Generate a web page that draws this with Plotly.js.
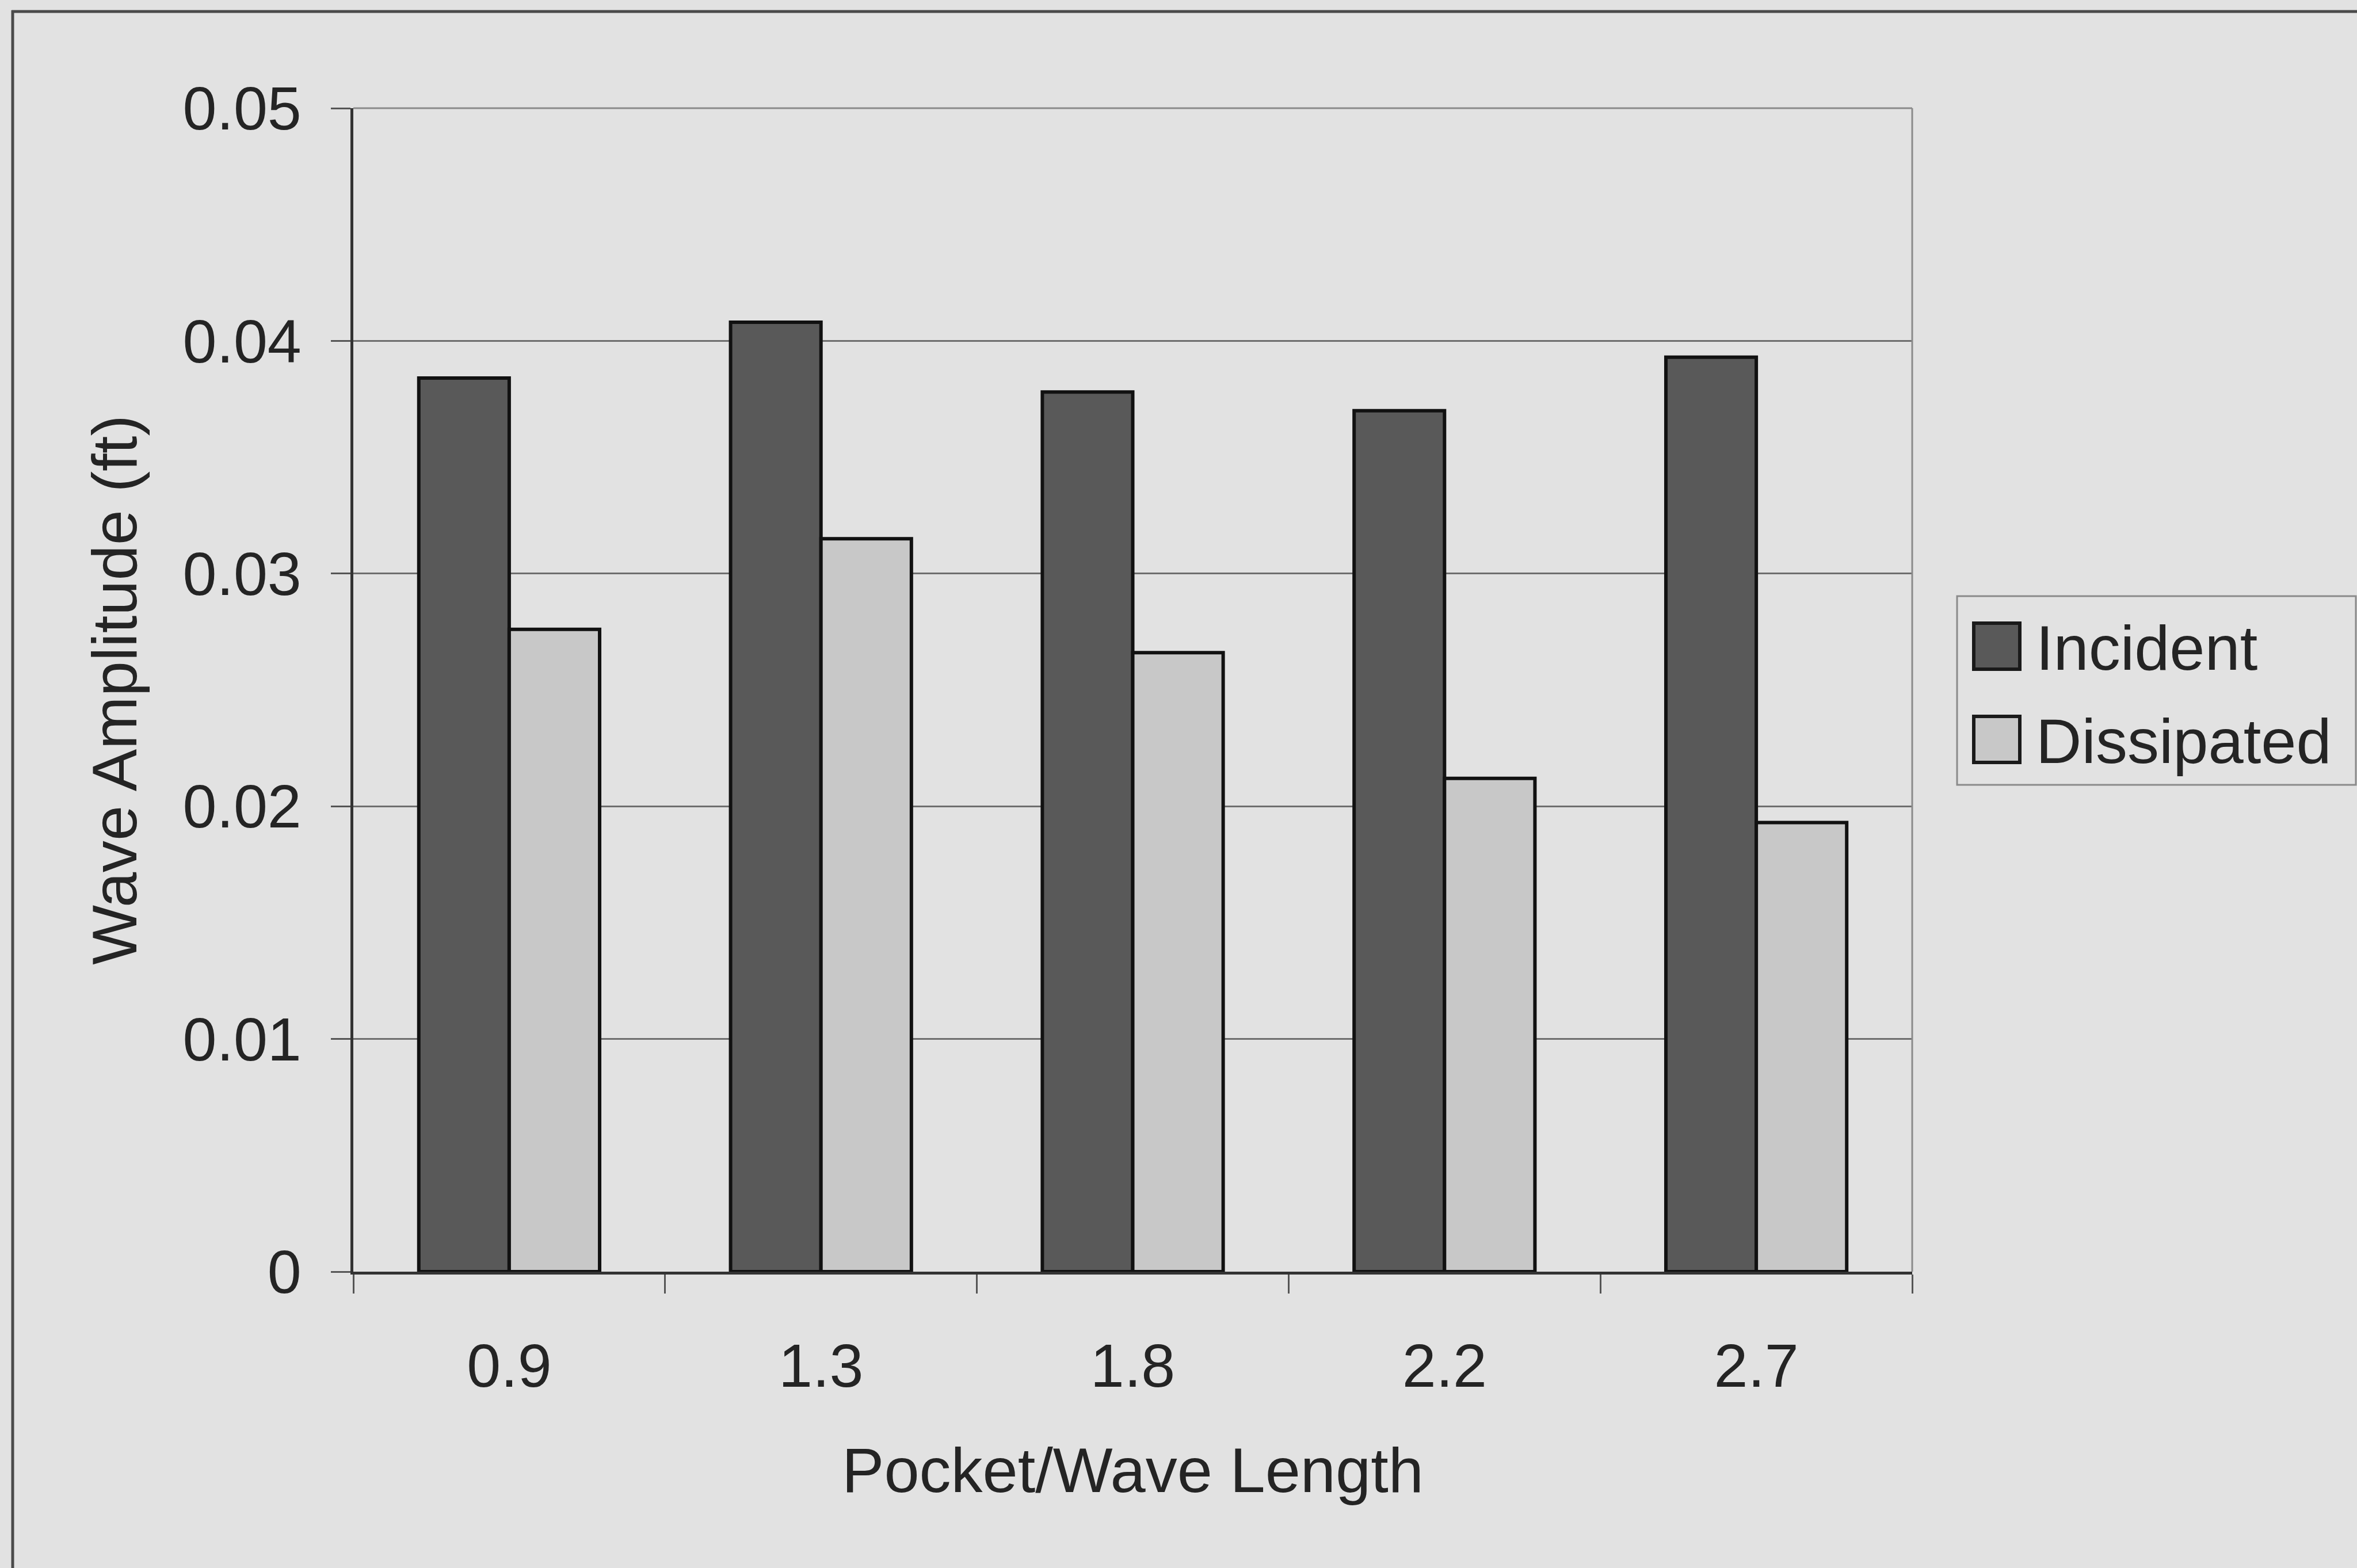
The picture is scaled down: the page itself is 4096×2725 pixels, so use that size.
<!DOCTYPE html>
<html>
<head>
<meta charset="utf-8">
<script src="https://cdn.plot.ly/plotly-3.0.1.min.js"></script>
<style>
  html, body { margin: 0; padding: 0; background: #e2e2e2; }
  #chart { width: 4096px; height: 2725px; }
</style>
</head>
<body>
<div id="chart"></div>
<script>
// ---- data ----
const categories = ['0.9', '1.3', '1.8', '2.2', '2.7'];
const incident = [0.0384, 0.0408, 0.0378, 0.0370, 0.0393];
const dissipated = [0.0276, 0.0315, 0.0266, 0.0212, 0.0193];
const seriesNames = ['Incident', 'Dissipated'];
const yTickVals = [0, 0.01, 0.02, 0.03, 0.04, 0.05];
const yTickText = ['0', '0.01', '0.02', '0.03', '0.04', '0.05'];
const xTitle = 'Pocket/Wave Length';
const yTitle = 'Wave Amplitude (ft)';

// ---- styles ----
const FONT = '"Liberation Sans", Arial, Helvetica, sans-serif';
const TEXT = '#242424';
const BG = '#e2e2e2';
const colors = ['#595959', '#c8c8c8'];
const W = 4096, H = 2725;
const L = 614, R = 3323, T = 188, B = 2210;
const px = x => (x - L) / (R - L);
const py = y => (B - y) / (B - T);

const traces = [
  { type: 'bar', name: seriesNames[0], x: categories, y: incident,
    marker: { color: colors[0], line: { color: '#111', width: 6 } }, showlegend: false },
  { type: 'bar', name: seriesNames[1], x: categories, y: dissipated,
    marker: { color: colors[1], line: { color: '#111', width: 6 } }, showlegend: false }
];

const shapes = [
  // plot frame top/right (gray)
  { type: 'line', xref: 'paper', yref: 'paper', x0: 0, x1: 1, y0: 1, y1: 1, line: { color: '#8a8a8a', width: 3 }, layer: 'above' },
  { type: 'line', xref: 'paper', yref: 'paper', x0: 1, x1: 1, y0: 0, y1: 1, line: { color: '#8a8a8a', width: 3 }, layer: 'above' },
  // outer border (top & left)
  { type: 'line', xref: 'paper', yref: 'paper', x0: px(20), x1: px(W + 10), y0: py(20), y1: py(20), line: { color: '#4a4a4a', width: 5 } },
  { type: 'line', xref: 'paper', yref: 'paper', x0: px(22), x1: px(22), y0: py(18), y1: py(H + 10), line: { color: '#4a4a4a', width: 5 } },
  // legend box
  { type: 'rect', xref: 'paper', yref: 'paper', x0: px(3401), x1: px(4094), y0: py(1036), y1: py(1364),
    line: { color: '#8a8a8a', width: 3 }, fillcolor: BG }
];
const annotations = [];
const legendRows = [1123, 1285];
seriesNames.forEach((name, i) => {
  const cy = legendRows[i];
  shapes.push({ type: 'rect', xref: 'paper', yref: 'paper',
    x0: px(3430), x1: px(3510), y0: py(cy - 40), y1: py(cy + 40),
    line: { color: '#1a1a1a', width: 6 }, fillcolor: colors[i] });
  annotations.push({ xref: 'paper', yref: 'paper', x: px(3536), y: py(cy + 2),
    xanchor: 'left', yanchor: 'middle', showarrow: false, text: name,
    font: { family: FONT, size: 110, color: TEXT } });
});

const layout = {
  width: W, height: H,
  paper_bgcolor: BG, plot_bgcolor: BG,
  margin: { l: L, r: W - R, t: T, b: H - B, pad: 0 },
  font: { family: FONT, color: TEXT, size: 106 },
  barmode: 'group', bargap: 0.42, bargroupgap: 0,
  showlegend: false,
  xaxis: {
    type: 'category', categoryorder: 'array', categoryarray: categories,
    showline: true, linecolor: '#333', linewidth: 5,
    ticks: 'outside', tickson: 'boundaries', ticklen: 33, tickwidth: 3, tickcolor: '#555',
    showgrid: false, zeroline: false,
    tickfont: { family: FONT, size: 106, color: TEXT },
    ticklabelstandoff: 68,
    title: { text: xTitle, font: { family: FONT, size: 110, color: TEXT }, standoff: 86 },
    automargin: false
  },
  yaxis: {
    range: [0, 0.05], tickmode: 'array', tickvals: yTickVals, ticktext: yTickText,
    showline: true, linecolor: '#333', linewidth: 5,
    ticks: 'outside', ticklen: 34, tickwidth: 3, tickcolor: '#555',
    showgrid: true, gridcolor: '#6e6e6e', gridwidth: 3, zeroline: false,
    tickfont: { family: FONT, size: 106, color: TEXT },
    ticklabelstandoff: 30,
    title: { text: yTitle, font: { family: FONT, size: 110, color: TEXT }, standoff: 44 },
    automargin: false
  },
  shapes: shapes,
  annotations: annotations
};

Plotly.newPlot('chart', traces, layout, { staticPlot: true, displayModeBar: false });
</script>
</body>
</html>
